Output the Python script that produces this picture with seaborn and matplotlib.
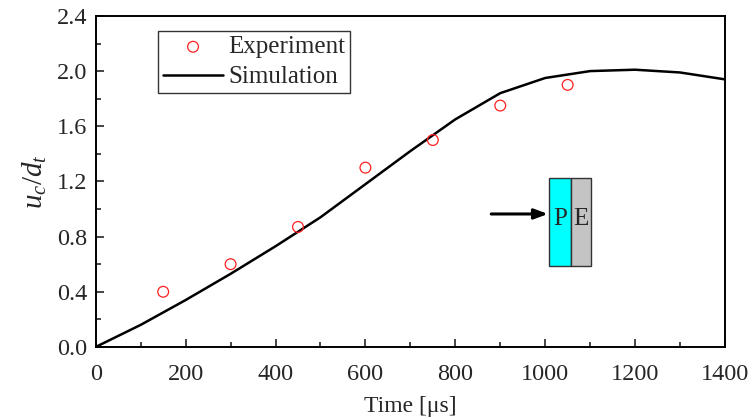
import matplotlib
matplotlib.use("Agg")
import matplotlib.pyplot as plt
import seaborn as sns
import pandas as pd
from matplotlib.patches import Rectangle
from matplotlib.ticker import MultipleLocator

sim_t = [0, 100, 200, 300, 400, 500, 600, 700, 800, 900, 1000, 1100, 1200, 1300, 1400]
sim_v = [0.0, 0.16, 0.34, 0.53, 0.73, 0.94, 1.18, 1.42, 1.65, 1.84, 1.95, 2.00, 2.01, 1.99, 1.94]
exp_t = [150, 300, 450, 600, 750, 900, 1050]
exp_v = [0.40, 0.60, 0.87, 1.30, 1.50, 1.75, 1.90]
x_ticks = [0, 200, 400, 600, 800, 1000, 1200, 1400]
y_ticks = [0.0, 0.4, 0.8, 1.2, 1.6, 2.0, 2.4]

sns.set_style("ticks")
plt.rcParams['font.family'] = ['Liberation Serif', 'DejaVu Serif']
plt.rcParams['mathtext.fontset'] = 'custom'
plt.rcParams['mathtext.it'] = 'Liberation Serif:italic'
plt.rcParams['mathtext.rm'] = 'Liberation Serif'

fig = plt.figure(figsize=(7.54, 4.19), dpi=100)
ax = fig.add_axes([0.127, 0.172, 0.8345, 0.79])

sim = pd.DataFrame({"t": sim_t, "v": sim_v})
exp = pd.DataFrame({"t": exp_t, "v": exp_v})

sns.scatterplot(data=exp, x="t", y="v", ax=ax, marker="o", s=60,
                facecolor="none", edgecolor="#ff2020", linewidth=0.9,
                label="Experiment", zorder=3)
sns.lineplot(data=sim, x="t", y="v", ax=ax, color="black", linewidth=1.8,
             label="Simulation", zorder=2)

ax.set_xlim(0, 1400)
ax.set_ylim(0, 2.4)
ax.set_xticks(x_ticks)
ax.set_xticklabels([str(v) for v in x_ticks])
ax.set_yticks(y_ticks)
ax.set_yticklabels([f"{v:.1f}" for v in y_ticks])
ax.xaxis.set_minor_locator(MultipleLocator(100))
ax.yaxis.set_minor_locator(MultipleLocator(0.2))
ax.tick_params(which="major", direction="in", length=6, width=1.2, labelsize=17.5,
               top=False, right=False, pad=6)
ax.tick_params(axis="x", which="major", pad=12)
ax.tick_params(which="minor", direction="in", length=3.5, width=1.2,
               top=False, right=False)
for s in ax.spines.values():
    s.set_visible(True)
    s.set_linewidth(1.4)
    s.set_color("black")

ax.set_xlabel("Time [μs]", fontsize=17, labelpad=8)
ax.set_ylabel(r"$u_c/d_t$", fontsize=21, labelpad=6)

leg = ax.legend(loc="upper left", bbox_to_anchor=(0.099, 0.955), borderaxespad=0,
                fontsize=18, frameon=True, fancybox=False, handlelength=2.4,
                handletextpad=0.2, borderpad=0.2, labelspacing=0.3)
leg.get_frame().set_edgecolor("black")
leg.get_frame().set_linewidth(1.0)

# inset schematic
ax.add_patch(Rectangle((1008, 0.587), 49, 0.639, facecolor="#00ffff",
                       edgecolor="#333333", linewidth=1.0, zorder=4))
ax.add_patch(Rectangle((1057, 0.587), 45, 0.639, facecolor="#c4c4c4",
                       edgecolor="#333333", linewidth=1.0, zorder=4))
ax.text(1032.5, 0.93, "P", ha="center", va="center", fontsize=18, zorder=5)
ax.text(1079.5, 0.93, "E", ha="center", va="center", fontsize=18, zorder=5)
ax.annotate("", xy=(1006, 0.964), xytext=(880, 0.964),
            arrowprops=dict(arrowstyle="-|>,head_length=0.8,head_width=0.3",
                            color="black", lw=2.2, shrinkA=0, shrinkB=0), zorder=5)

fig.savefig("out.png", dpi=100)
